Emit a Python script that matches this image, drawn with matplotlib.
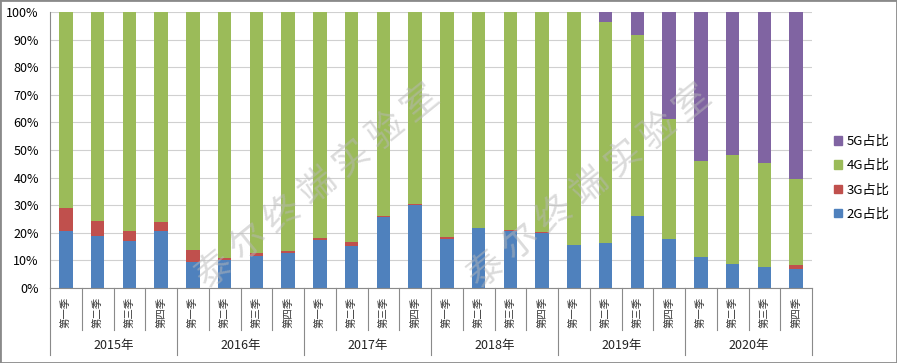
import matplotlib
matplotlib.use("Agg")
import matplotlib.pyplot as plt
import matplotlib.transforms as mtransforms
from matplotlib.patches import Rectangle, Patch
import numpy as np

plt.rcParams['font.family'] = ['Noto Sans CJK SC', 'DejaVu Sans']

# data (percent share per quarter)
years = ['2015年', '2016年', '2017年', '2018年', '2019年', '2020年']
quarters = ['第一季', '第二季', '第三季', '第四季']
g2 = [20.5, 19.0, 17.1, 20.5, 9.5, 10.1, 11.7, 12.6, 17.4, 15.3, 25.8, 30.1,
      17.6, 21.6, 20.5, 19.8, 15.6, 16.4, 26.1, 17.9, 11.3, 8.7, 7.7, 6.8]
g3 = [8.4, 5.3, 3.5, 3.5, 4.3, 0.7, 0.9, 0.8, 0.7, 1.4, 0.2, 0.4,
      0.8, 0.3, 0.5, 0.6, 0.0, 0.0, 0.0, 0.0, 0.0, 0.0, 0.0, 1.5]
g4 = [71.1, 75.7, 79.4, 76.0, 86.2, 89.2, 87.4, 86.6, 81.9, 83.3, 74.0, 69.5,
      81.6, 78.1, 79.0, 79.6, 84.4, 80.0, 65.7, 43.2, 34.7, 39.5, 37.7, 31.2]
g5 = [0, 0, 0, 0, 0, 0, 0, 0, 0, 0, 0, 0,
      0, 0, 0, 0, 0, 3.6, 8.2, 38.9, 54.0, 51.8, 54.6, 60.5]
series = [('2G占比', g2, '#4F81BD'), ('3G占比', g3, '#C0504D'),
          ('4G占比', g4, '#9BBB59'), ('5G占比', g5, '#8064A2')]

fig = plt.figure(figsize=(8.97, 3.63), dpi=100)
ax = fig.add_axes([50/897, 75/363, 762/897, 276/363])

x = np.arange(len(g2))
bottom = np.zeros(len(g2))
for name, vals, col in series:
    ax.bar(x, vals, 0.42, bottom=bottom, color=col, label=name, zorder=2)
    bottom += np.array(vals)

ax.set_xlim(-0.5, len(g2) - 0.5)
ax.set_ylim(0, 100)
ax.set_yticks(np.arange(0, 101, 10))
ax.set_yticklabels(['%d%%' % v for v in range(0, 101, 10)], fontsize=9)
ax.tick_params(axis='y', length=0, pad=8)
ax.set_xticks([])
ax.yaxis.grid(True, color='#d0d0d0', linewidth=0.8, zorder=0)
for s in ['top', 'right']:
    ax.spines[s].set_visible(False)
ax.spines['left'].set_color('#8a8a8a')
ax.spines['bottom'].set_color('#8a8a8a')

# two-level category axis
trans = mtransforms.blended_transform_factory(ax.transData, fig.transFigure)
y_axis = 75/363
y_qtick = 33/363
y_ytick = 8/363
for i in range(len(g2) + 1):
    bx = i - 0.5
    yb = y_ytick if i % 4 == 0 else y_qtick
    ax.plot([bx, bx], [y_axis, yb], color='#8a8a8a', lw=0.8,
            transform=trans, clip_on=False)
for i in range(len(g2)):
    ax.text(i, 51/363, quarters[i % 4], rotation=90, ha='center', va='center',
            fontsize=7.5, color='#333333', transform=trans)
for k, yr in enumerate(years):
    ax.text(4*k + 1.5, 18/363, yr, ha='center', va='center', fontsize=9,
            color='#222222', transform=trans)

# legend
handles = [Patch(color=c, label=n) for n, v, c in series][::-1]
fig.legend(handles=handles, loc='center left', bbox_to_anchor=(0.917, 0.51),
           frameon=False, fontsize=9.5, handlelength=0.6, handleheight=0.6,
           handletextpad=0.3, labelspacing=0.85)

# watermark
for cx in [318, 590]:
    fig.text(cx/897, 1 - 187/363, '泰 尔 终 端 实 验 室', rotation=39, fontsize=26,
             color='#b8b8b8', alpha=0.5, ha='center', va='center', zorder=10)

fig.patches.append(Rectangle((0, 0), 1, 1, transform=fig.transFigure,
                             fill=False, edgecolor='#8a8a8a', linewidth=2))

fig.savefig('out.png', dpi=100)
